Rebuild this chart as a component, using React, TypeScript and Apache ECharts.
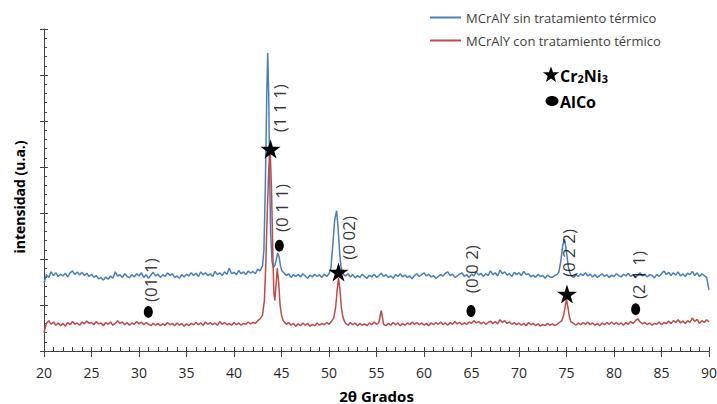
import React, { useEffect, useRef } from 'react';
import * as echarts from 'echarts';

const STEP = 0.25;
const FONT = 'Open Sans';

// Blue: MCrAlY sin tratamiento térmico
const blueBase1 = [
  1.48, 1.66, 1.60, 1.72, 1.64, 1.70, 1.62, 1.67,
  1.63, 1.69, 1.61, 1.70, 1.74, 1.66, 1.72, 1.65,
  1.71, 1.64, 1.69, 1.62, 1.67, 1.60, 1.64, 1.57,
  1.60, 1.54, 1.61, 1.56, 1.63, 1.58, 1.72, 1.63,
  1.66, 1.60, 1.68, 1.62, 1.59, 1.66, 1.61, 1.68,
  1.63, 1.70, 1.60, 1.66, 1.58, 1.65, 1.71, 1.63,
  1.67, 1.60, 1.66, 1.62, 1.70, 1.64, 1.68, 1.60,
  1.63, 1.58, 1.66, 1.61, 1.67, 1.63, 1.70, 1.64,
  1.69, 1.62, 1.72, 1.66, 1.70, 1.64, 1.68, 1.62,
  1.73, 1.66, 1.70, 1.64, 1.72, 1.67, 1.80, 1.68,
  1.71, 1.66, 1.75, 1.68, 1.72, 1.66, 1.74, 1.69,
  1.73, 1.68, 1.78, 1.74,
];
const bluePeak111 = [
  [43.0, 1.85], [43.15, 2.2], [43.3, 3.6], [43.45, 5.6], [43.55, 6.48], [43.65, 5.6],
  [43.75, 3.9], [43.85, 2.6], [44.0, 1.95], [44.15, 1.82], [44.3, 1.86], [44.45, 1.98],
  [44.6, 2.13], [44.75, 2.05], [44.9, 1.84], [45.05, 1.74],
];
const blueBase2 = [
  1.70, 1.64, 1.68, 1.60, 1.66, 1.62, 1.67,
  1.61, 1.68, 1.63, 1.58, 1.65, 1.61, 1.67, 1.62,
  1.66, 1.60, 1.67, 1.62, 1.68,
];
const bluePeak002 = [
  [50.2, 1.8], [50.4, 2.3], [50.6, 2.85], [50.8, 3.05], [50.95, 2.7], [51.1, 2.2],
  [51.25, 1.85], [51.4, 1.72], [51.55, 1.66],
];
const blueBase3 = [
  1.63,
  1.68, 1.61, 1.66, 1.59, 1.64, 1.60, 1.67, 1.62,
  1.58, 1.65, 1.61, 1.67, 1.60, 1.64, 1.69, 1.62,
  1.66, 1.60, 1.63, 1.58, 1.66, 1.62, 1.68, 1.61,
  1.65, 1.60, 1.63, 1.57, 1.64, 1.68, 1.62, 1.66,
  1.70, 1.63, 1.67, 1.61, 1.64, 1.58, 1.62, 1.66,
  1.63, 1.69, 1.72, 1.64, 1.67, 1.60, 1.63, 1.67,
  1.70, 1.62, 1.66, 1.60, 1.67, 1.63, 1.72, 1.65,
  1.69, 1.62, 1.68, 1.64, 1.74, 1.66, 1.70, 1.63,
  1.76, 1.68, 1.72, 1.65, 1.68, 1.62, 1.71, 1.66,
  1.70, 1.64, 1.73, 1.66, 1.68, 1.61, 1.65, 1.60,
  1.67, 1.62, 1.64, 1.58, 1.65, 1.61, 1.60, 1.64,
  1.66,
];
const bluePeak022 = [
  [74.2, 1.72], [74.4, 1.95], [74.6, 2.3], [74.8, 2.43], [75.0, 2.15], [75.2, 1.82], [75.4, 1.68],
];
const blueBase4 = [
  1.64, 1.60,
  1.66, 1.62, 1.68, 1.64, 1.70, 1.63, 1.67, 1.61,
  1.66, 1.60, 1.64, 1.68, 1.62, 1.66, 1.60, 1.65,
  1.62, 1.68, 1.64, 1.61, 1.67, 1.63, 1.69, 1.62,
  1.66, 1.60, 1.65, 1.70, 1.63, 1.67, 1.61, 1.66,
  1.64, 1.59, 1.66, 1.62, 1.68, 1.74, 1.66, 1.71,
  1.64, 1.70, 1.65, 1.72, 1.63, 1.68, 1.62, 1.69,
  1.66, 1.73, 1.64, 1.70, 1.62, 1.68, 1.64, 1.60,
];
const blueEnd = [[90, 1.33]];

// Red: MCrAlY con tratamiento térmico
const redBase1 = [
  0.40, 0.60, 0.66, 0.58, 0.63, 0.56, 0.61, 0.55,
  0.60, 0.54, 0.62, 0.57, 0.64, 0.58, 0.61, 0.56,
  0.63, 0.59, 0.65, 0.60, 0.62, 0.57, 0.64, 0.59,
  0.61, 0.55, 0.62, 0.58, 0.63, 0.56, 0.60, 0.66,
  0.60, 0.63, 0.57, 0.62, 0.56, 0.61, 0.58, 0.64,
  0.59, 0.63, 0.57, 0.62, 0.58, 0.55, 0.60, 0.56,
  0.60, 0.55, 0.59, 0.56, 0.62, 0.57, 0.60, 0.55,
  0.61, 0.56, 0.60, 0.54, 0.59, 0.55, 0.60, 0.57,
  0.62, 0.57, 0.61, 0.56, 0.63, 0.58, 0.62, 0.57,
  0.61, 0.56, 0.64, 0.58, 0.62, 0.57, 0.60, 0.56,
  0.62, 0.57, 0.61, 0.56, 0.60, 0.58, 0.63, 0.59,
  0.62, 0.60, 0.66, 0.70,
];
const redPeak111 = [
  [43.0, 0.78], [43.2, 1.1], [43.35, 1.9], [43.5, 3.0], [43.65, 3.9], [43.8, 4.4],
  [43.95, 3.5], [44.1, 2.0], [44.2, 1.25], [44.3, 1.1], [44.45, 1.5], [44.55, 1.8],
  [44.7, 1.5], [44.85, 1.0], [45.0, 0.78], [45.15, 0.68],
];
const redBase2 = [
  0.64, 0.58, 0.62,
  0.56, 0.60, 0.54, 0.59, 0.55, 0.61, 0.56, 0.60,
  0.54, 0.58, 0.55, 0.61, 0.56, 0.60, 0.57, 0.62,
  0.58, 0.64,
];
const redPeak002 = [
  [50.5, 0.72], [50.7, 0.95], [50.85, 1.3], [51.0, 1.59], [51.15, 1.35], [51.3, 0.95],
  [51.45, 0.75], [51.6, 0.66],
];
const redBase3 = [
  0.60,
  0.56, 0.62, 0.57, 0.61, 0.55, 0.60, 0.56, 0.59,
  0.55, 0.61, 0.57, 0.63, 0.58, 0.62, 0.88, 0.58,
  0.55, 0.60, 0.56, 0.62, 0.57, 0.61, 0.55, 0.60,
  0.56, 0.61, 0.57, 0.63, 0.58, 0.62, 0.57, 0.61,
  0.56, 0.60, 0.55, 0.61, 0.57, 0.62, 0.58, 0.63,
  0.57, 0.61, 0.56, 0.62, 0.58, 0.64, 0.59, 0.62,
  0.57, 0.61, 0.58, 0.63, 0.60, 0.66, 0.61, 0.64,
  0.59, 0.63, 0.58, 0.62, 0.65, 0.60, 0.64, 0.59,
  0.68, 0.62, 0.66, 0.60, 0.63, 0.58, 0.62, 0.57,
  0.61, 0.56, 0.60, 0.55, 0.62, 0.57, 0.60, 0.55,
  0.59, 0.54, 0.58, 0.55, 0.60, 0.56, 0.59, 0.55,
  0.58, 0.62, 0.66,
];
const redPeak022 = [
  [74.7, 0.78], [74.85, 0.95], [75.0, 1.13], [75.15, 0.95], [75.3, 0.75], [75.45, 0.64],
];
const redBase4 = [
  0.60,
  0.56, 0.61, 0.57, 0.62, 0.58, 0.63, 0.57, 0.61,
  0.56, 0.60, 0.55, 0.61, 0.57, 0.62, 0.58, 0.63,
  0.58, 0.62, 0.57, 0.61, 0.56, 0.62, 0.58, 0.64,
  0.60, 0.66, 0.70, 0.63, 0.59, 0.62, 0.57, 0.61,
  0.56, 0.60, 0.58, 0.63, 0.57, 0.62, 0.59, 0.65,
  0.60, 0.66, 0.62, 0.68, 0.61, 0.65, 0.60, 0.66,
  0.62, 0.72, 0.64, 0.69, 0.60, 0.66, 0.62, 0.68,
  0.63,
];

// Phase markers
const starX = [43.85, 51.0, 75.05];
const starY = [4.39, 1.72, 1.24];
const alcoX = [30.98, 44.77, 64.95, 82.28];
const alcoY = [0.85, 2.29, 0.87, 0.91];

// Miller index labels
const hklText = ['(1 1 1)', '(0 1 1)', '(0 02)', '(01 1)', '(0 0 2)', '(0 2 2)', '(2 1 1)'];
const hklX = [44.84, 44.95, 52.0, 31.16, 64.95, 75.16, 82.53];
const hklY = [5.28, 3.11, 2.46, 1.54, 1.78, 2.13, 1.65];

const seriesNames = ['MCrAlY sin tratamiento térmico', 'MCrAlY con tratamiento térmico'];

const STAR_PATH = 'path://M50,0 L61,35 L98,35 L68,57 L79,91 L50,70 L21,91 L32,57 L2,35 L39,35 Z';

function seg(start: number, vals: number[]) {
  return vals.map((v, i) => [start + i * STEP, v]);
}

function starPoints(cx: number, cy: number, r: number, ri: number) {
  const pts: number[][] = [];
  for (let i = 0; i < 10; i++) {
    const a = -Math.PI / 2 + (i * Math.PI) / 5;
    const rr = i % 2 === 0 ? r : ri;
    pts.push([cx + rr * Math.cos(a), cy + rr * Math.sin(a)]);
  }
  return pts;
}

export default function App() {
  const ref = useRef<HTMLDivElement>(null);
  useEffect(() => {
    if (!ref.current) return;
    const chart = echarts.init(ref.current, undefined, { renderer: 'svg' });
    const blueData = [
      ...seg(20, blueBase1), ...bluePeak111, ...seg(45.25, blueBase2), ...bluePeak002,
      ...seg(51.75, blueBase3), ...bluePeak022, ...seg(75.5, blueBase4), ...blueEnd,
    ];
    const redData = [
      ...seg(20, redBase1), ...redPeak111, ...seg(45.25, redBase2), ...redPeak002,
      ...seg(51.75, redBase3), ...redPeak022, ...seg(75.75, redBase4),
    ];
    const axisColor = '#404040';
    chart.setOption({
      animation: false,
      textStyle: { fontFamily: FONT },
      grid: { left: 44, right: 8, top: 29, bottom: 53, containLabel: false, outerBoundsMode: 'none' },
      legend: {
        data: seriesNames,
        orient: 'vertical',
        left: 425,
        top: 6,
        icon: 'rect',
        itemWidth: 31,
        itemHeight: 2,
        itemGap: 10,
        textStyle: { fontFamily: FONT, fontSize: 13, color: '#404040' },
      },
      xAxis: [
        {
          type: 'value', min: 20, max: 90, interval: 5, position: 'bottom',
          axisLine: { show: true, lineStyle: { color: axisColor, width: 1 } },
          axisTick: { show: true, length: 6, lineStyle: { color: axisColor } },
          axisLabel: { fontFamily: FONT, fontSize: 14, color: '#262626', margin: 14 },
          splitLine: { show: false },
          name: '2θ Grados', nameLocation: 'middle', nameGap: 37,
          nameTextStyle: { fontFamily: FONT, fontWeight: 'bold', fontSize: 15, color: '#000' },
        },
        {
          type: 'value', min: 20, max: 90, interval: 5, position: 'bottom', offset: 0,
          axisLine: { show: false },
          axisTick: { show: true, inside: true, length: 4, lineStyle: { color: axisColor } },
          minorTick: { show: true, splitNumber: 5, length: 4, lineStyle: { color: axisColor } },
          axisLabel: { show: false },
          splitLine: { show: false },
        },
      ],
      yAxis: [
        {
          type: 'value', min: 0, max: 7, interval: 1, position: 'left',
          axisLine: { show: true, lineStyle: { color: axisColor, width: 1 } },
          axisTick: { show: true, length: 4, lineStyle: { color: axisColor } },
          axisLabel: { show: false },
          splitLine: { show: false },
          name: 'intensidad (u.a.)', nameLocation: 'middle', nameGap: 18, nameRotate: 90,
          nameTextStyle: {
            fontFamily: FONT, fontWeight: 'bold', fontSize: 14, color: '#000',
            padding: [0, 14, 0, 0],
          },
        },
        {
          type: 'value', min: 0, max: 7, interval: 1, position: 'left', offset: 0,
          axisLine: { show: false },
          axisTick: { show: true, inside: true, length: 4, lineStyle: { color: axisColor } },
          minorTick: { show: true, splitNumber: 5, length: 3, lineStyle: { color: axisColor } },
          axisLabel: { show: false },
          splitLine: { show: false },
        },
      ],
      series: [
        {
          name: seriesNames[0], type: 'line', data: blueData, showSymbol: false, symbol: 'none',
          lineStyle: { color: '#4A7EBB', width: 1.5 }, itemStyle: { color: '#4A7EBB' },
          xAxisIndex: 0, yAxisIndex: 0, z: 2,
        },
        {
          name: seriesNames[1], type: 'line', data: redData, showSymbol: false, symbol: 'none',
          lineStyle: { color: '#BE4B48', width: 1.5 }, itemStyle: { color: '#BE4B48' },
          xAxisIndex: 0, yAxisIndex: 0, z: 3,
        },
        {
          name: 'Cr2Ni3', type: 'scatter', symbol: STAR_PATH, symbolSize: [20, 19],
          data: starX.map((x, i) => [x, starY[i]]),
          itemStyle: { color: '#000', opacity: 1 }, z: 5,
        },
        {
          name: 'AlCo', type: 'scatter', symbol: 'circle', symbolSize: [9, 12],
          data: alcoX.map((x, i) => [x, alcoY[i]]),
          itemStyle: { color: '#000', opacity: 1 }, z: 5,
        },
        {
          name: 'hkl', type: 'scatter', symbolSize: 0,
          data: hklX.map((x, i) => ({ value: [x, hklY[i]], name: hklText[i] })),
          label: {
            show: true, position: 'inside', rotate: 90, formatter: '{b}',
            fontFamily: FONT, fontSize: 17, color: '#000',
          },
          z: 6,
        },
      ],
      graphic: [
        { type: 'polygon', shape: { points: starPoints(551, 75, 8.5, 3.5) }, style: { fill: '#000' } },
        { type: 'ellipse', shape: { cx: 552, cy: 101, rx: 6.5, ry: 5 }, style: { fill: '#000' } },
        {
          type: 'text', x: 560, y: 76,
          style: {
            text: '{b|Cr}{s|2}{b|Ni}{s|3}',
            verticalAlign: 'middle',
            rich: {
              b: { fontFamily: FONT, fontWeight: 'bold', fontSize: 16, fill: '#000' },
              s: { fontFamily: FONT, fontWeight: 'bold', fontSize: 11, fill: '#000', verticalAlign: 'bottom' },
            },
          },
        },
        {
          type: 'text', x: 560, y: 102,
          style: { text: 'AlCo', fontFamily: FONT, fontWeight: 'bold', fontSize: 16, fill: '#000', verticalAlign: 'middle' },
        },
      ],
    });
    return () => chart.dispose();
  }, []);
  return <div ref={ref} style={{ position: 'absolute', left: 0, top: 0, width: 717, height: 404 }} />;
}
